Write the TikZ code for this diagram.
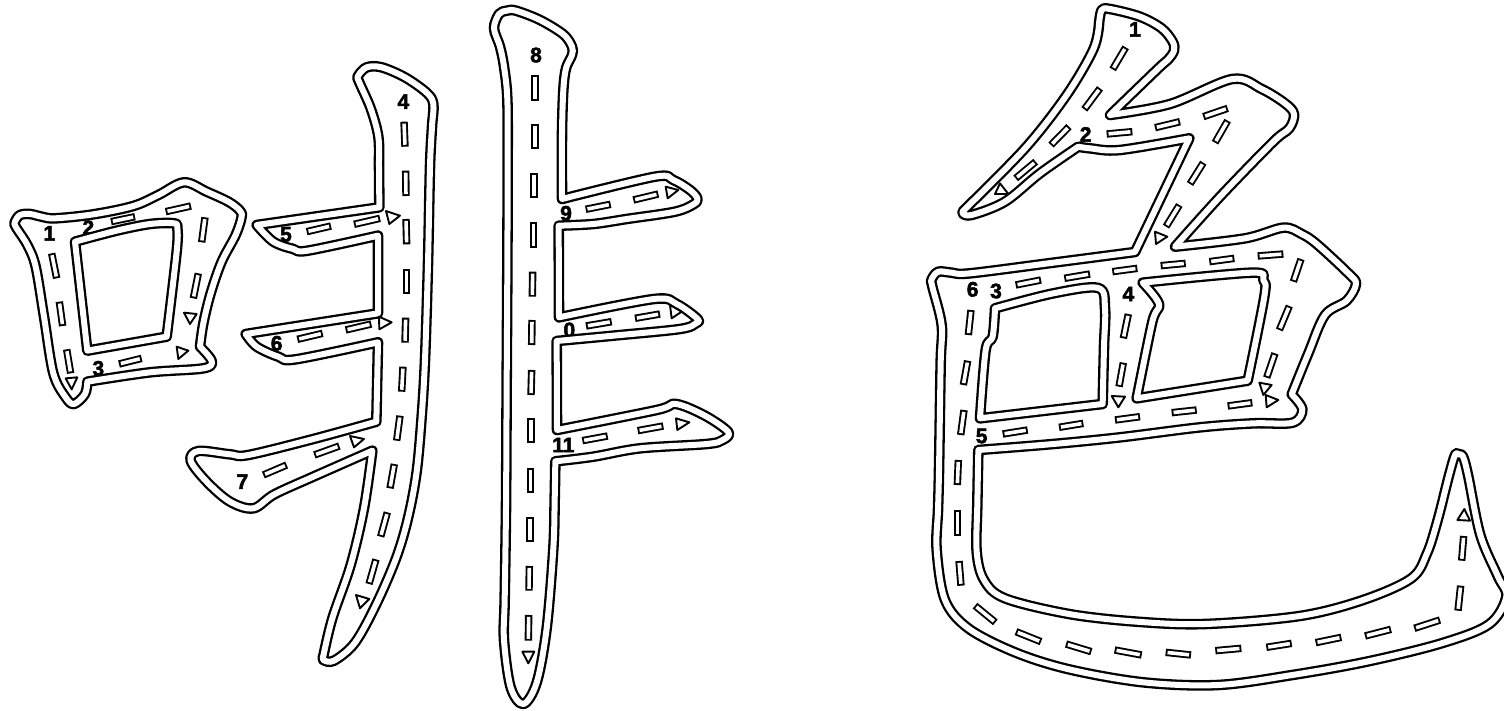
\documentclass[tikz,border=0pt]{standalone}
\usepackage{fontspec}
\setmainfont{Liberation Sans}
\tikzset{
  zm/.style 2 args={shift={(#1pt,-#2pt)},x=.33333pt,y=-.33333pt},
  sm/.style={smooth,tension=.55},
  outline/.style={draw=black,line width=2.3pt,double=white,double distance=6pt,line join=round},
  bar/.style={draw=black,line width=7.4pt,postaction={draw=white,line width=3.6pt,shorten <=1.9pt,shorten >=1.9pt}},
  tri/.style={draw=black,line width=1.9pt,line join=round,fill=white},
  num/.style={font=\fontsize{21}{21}\selectfont\bfseries\addfontfeature{FakeBold=2.5},inner sep=0pt,text=black}
}
\begin{document}
\begin{tikzpicture}
\useasboundingbox (0pt,0pt) rectangle (1504pt,-710pt);
\clip (0pt,0pt) rectangle (1504pt,-710pt);
% ---------- left part, first block
\begin{scope}[zm={0}{160}]
\node[num] (a1) at (148,220) {1};
\node[num] (a2) at (265,203) {2};
\node[num] (a3) at (295,625) {3};
\path[outline] plot[sm] coordinates {(600,560) (610,490) (632,400) (665,305) (707,225) (725,170) (718,150) (685,125) (620,95) (552,67) (475,105) (400,138) (280,163) (165,175) (125,170) (90,162) (60,165) (45,185) (47,200) (82,255) (107,320) (132,470) (160,640) (197,712) (222,732) (255,702) (262,665)}
 -- plot[sm] coordinates {(262,665) (450,637) (610,625) (635,603) (600,560)} -- cycle;
\path[outline] plot[sm] coordinates {(225,245) (350,212) (450,192) (522,190) (532,205) (530,275) (500,530)}
 -- (262,572) -- cycle;
\foreach \a/\b/\c/\d in {155/280/170/355,178/425/188/498,200/568/212/640,333/185/405/170,497/155/573/138,615/172/605/247,595/340/580/415,357/612/425/595}
  \draw[bar] (\a,\b) -- (\c,\d);
\foreach \a/\b/\c/\d/\e/\f in {197/655/232/652/215/688,530/560/565/572/535/597,552/458/590/462/570/492}
  \draw[tri] (\a,\b) -- (\c,\d) -- (\e,\f) -- cycle;
\end{scope}
% ---------- left part, second block
\begin{scope}[zm={180}{50}]
\node[num] (b4) at (670,155) {4};
\node[num] (b5) at (318,553) {5};
\node[num] (b6) at (290,880) {6};
\node[num] (b7) at (187,1295) {7};
\path[outline] plot[sm] coordinates {(598,472) (597,350) (595,260) (572,175) (537,95) (534,78) (560,52) (605,52) (675,82) (740,128) (760,162) (756,230) (750,350) (744,640) (735,930) (725,1100) (710,1265) (685,1400) (650,1520) (590,1660) (525,1778) (462,1832) (430,1830) (430,1818)}
 -- plot[sm] coordinates {(430,1818) (457,1705) (512,1545) (552,1375) (577,1202)}
 -- plot[sm] coordinates {(577,1202) (400,1280) (283,1333) (220,1375) (150,1355) (80,1295) (32,1232) (55,1203) (150,1213) (205,1215) (400,1167) (589,1115)}
 -- (594,877)
 -- plot[sm] coordinates {(594,877) (347,928) (295,920) (230,890) (197,852)}
 -- (594,790) -- (594,557)
 -- plot[sm] coordinates {(594,557) (383,602) (340,597) (280,575) (230,525)}
 -- cycle;
\foreach \a/\b/\c/\d in {672/215/675/290,677/362/678/438,678/507/680/583,680/657/680/732,677/803/675/878,669/950/665/1025,660/1097/650/1172,643/1242/630/1315,622/1387/602/1460,588/1528/567/1602,380/545/453/528,522/523/600/505,352/868/428/850,497/840/574/822,250/1275/320/1245,403/1215/478/1188}
  \draw[bar] (\a,\b) -- (\c,\d);
\foreach \a/\b/\c/\d/\e/\f in {528/1635/568/1647/540/1675,618/483/660/497/628/522,597/800/635/817/598/838,510/1158/552/1167/522/1192}
  \draw[tri] (\a,\b) -- (\c,\d) -- (\e,\f) -- cycle;
\end{scope}
% ---------- middle part
\begin{scope}[zm={480}{0}]
\node[num] (c8) at (168,165) {8};
\node[num] (c9) at (258,640) {9};
\node[num] (c0) at (268,990) {0};
\node[num] (c11) at (250,1335) {11};
\path[outline] plot[sm] coordinates {(246,597) (246,400) (250,270) (258,205) (276,165) (276,140) (250,103) (180,60) (108,32) (80,32) (57,42) (42,85) (60,140) (72,200) (82,298) (83,500) (82,800) (80,1150) (78,1520) (74,1800) (72,1920) (92,2062) (130,2112) (170,2048) (200,1885) (220,1645) (224,1500) (226,1384)}
 -- plot[sm] coordinates {(226,1384) (340,1370) (480,1345) (680,1332) (728,1320) (745,1296) (675,1247) (588,1212) (530,1230) (231,1290)}
 -- (230,1023)
 -- plot[sm] coordinates {(230,1023) (400,1007) (600,987) (648,970) (652,956) (590,912) (522,897) (237,952)}
 -- (236,677)
 -- plot[sm] coordinates {(236,677) (340,672) (440,657) (585,635) (642,612) (652,595) (630,570) (580,540) (525,530) (246,597)}
 -- cycle;
\foreach \a/\b/\c/\d in {165/225/165/302,165/372/165/447,162/520/162/595,160/667/160/743,158/815/157/890,156/960/155/1035,155/1110/153/1185,153/1255/153/1330,151/1405/151/1480,150/1550/150/1625,148/1698/147/1772,146/1845/145/1922,317/628/392/613,460/600/535/582,318/978/395/965,465/955/540/942,307/1322/383/1308,473/1292/550/1278}
  \draw[bar] (\a,\b) -- (\c,\d);
\foreach \a/\b/\c/\d/\e/\f in {127/1955/163/1955/145/1990,557/560/595/570/563/595,570/915/605/935/575/955,588/1255/628/1267/592/1290}
  \draw[tri] (\a,\b) -- (\c,\d) -- (\e,\f) -- cycle;
\end{scope}
% ---------- right character
\begin{scope}[zm={920}{230}]
\node[num] (d1) at (645,-602) {1};
\node[num] (d2) at (497,-287) {2};
\node[num] (d6) at (158,178) {6};
\node[num] (d3) at (228,183) {3};
\node[num] (d4) at (625,192) {4};
\node[num] (d5) at (185,618) {5};
\path[outline] plot[sm] coordinates {(537,-618) (545,-660) (570,-663) (660,-640) (725,-605) (758,-565) (762,-538) (745,-512) (715,-485) (570,-345)}
 -- plot[sm] coordinates {(570,-345) (750,-378) (937,-453) (1025,-423) (1095,-380) (1122,-348) (1108,-305) (1060,-265) (900,-100) (765,50)}
 -- plot[sm] coordinates {(765,50) (975,25) (1090,-7) (1145,12) (1190,42) (1285,130) (1308,162) (1280,212) (1215,255) (1165,370) (1115,493)}
 -- plot[sm] coordinates {(1115,493) (1147,538) (1118,578) (1000,580) (840,592) (600,622) (400,642) (175,660)}
 -- plot[sm] coordinates {(175,660) (172,820) (170,965) (192,1050) (255,1105) (447,1152) (650,1175) (855,1182) (1139,1158) (1329,1110) (1474,1045) (1521,970) (1553,870) (1586,740) (1605,675) (1616,673) (1629,680) (1644,735) (1681,915) (1734,1040) (1759,1100) (1707,1183) (1564,1240) (1340,1295) (1117,1335) (894,1365) (670,1357) (447,1318) (285,1267) (145,1195) (75,1110) (50,960) (54,840) (57,720) (62,400) (65,285) (37,170) (35,148) (55,125) (95,128) (150,130) (400,98) (645,66)}
 -- plot[sm] coordinates {(645,66) (808,-275)}
 -- plot[sm] coordinates {(808,-275) (600,-240) (510,-245) (475,-250)}
 -- plot[sm] coordinates {(475,-250) (360,-170) (255,-85) (155,-45) (128,-50)}
 -- plot[sm] coordinates {(128,-56) (315,-245) (440,-405) (520,-542) (537,-618)}
 -- cycle;
\path[outline] plot[sm] coordinates {(225,235) (400,190) (535,174) (555,235) (552,350) (548,522)}
 -- (180,565) -- plot[sm] coordinates {(180,565) (197,360) (218,320) (225,235)} -- cycle;
\path[outline] plot[sm] coordinates {(668,158) (995,128) (1030,150) (1033,200) (983,452)}
 -- (650,505) -- plot[sm] coordinates {(650,505) (697,275) (717,222) (668,158)} -- cycle;
\foreach \a/\b/\c/\d in {617/-548/578/-482,540/-425/493/-362,447/-310/393/-255,347/-205/287/-155,560/-288/637/-295,705/-307/780/-325,850/-340/923/-365,923/-328/885/-262,850/-202/810/-138,778/-75/738/-10,287/165/363/150,433/145/510/132,577/125/652/115,722/107/797/100,868/95/943/85,1013/78/1090/72,1143/87/1120/155,1108/228/1078/300,1065/370/1040/443,153/240/145/315,143/392/130/465,132/540/122/615,115/690/112/765,112/840/112/918,117/993/123/1067,165/1127/226/1177,288/1205/363/1235,438/1242/514/1265,584/1260/665/1275,737/1267/813/1275,886/1262/964/1255,1039/1252/1115/1240,1187/1238/1264/1222,1335/1218/1413/1198,1483/1195/1560/1170,1614/1142/1622/1067,1625/992/1631/918,248/612/323/600,417/592/490/580,585/570/660/560,755/548/830/540,923/528/997/518,625/252/610/325,610/398/597/470}
  \draw[bar] (\a,\b) -- (\c,\d);
\foreach \a/\b/\c/\d/\e/\f in {240/-140/265/-108/225/-108,705/5/742/20/708/42,1612/870/1650/872/1633/837,1037/495/1075/510/1040/532,1018/458/1055/465/1030/495,575/498/615/500/595/532}
  \draw[tri] (\a,\b) -- (\c,\d) -- (\e,\f) -- cycle;
\end{scope}
\end{tikzpicture}
\end{document}
